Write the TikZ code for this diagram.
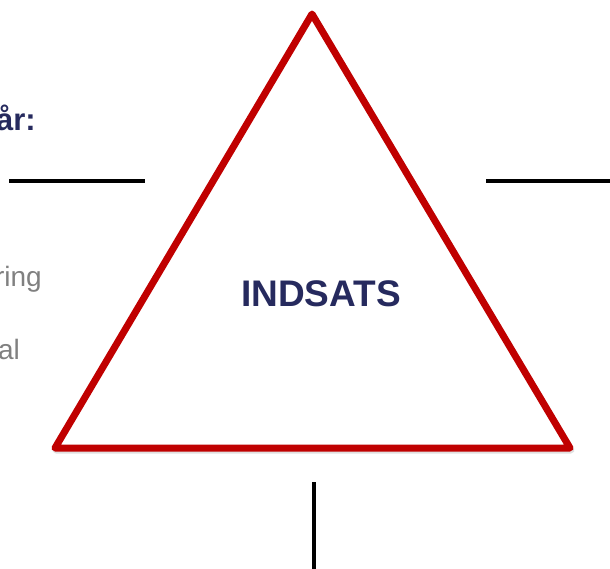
\documentclass[tikz,border=0pt]{standalone}
\usepackage{fontspec}
\setmainfont{Liberation Sans}
\usepackage{xcolor}
\usepackage{tikz}
\usetikzlibrary{positioning, calc}
\definecolor{navy}{RGB}{38, 42, 94}
\definecolor{alert}{RGB}{192, 0, 0}
\definecolor{muted}{RGB}{128, 128, 128}
\tikzset{
    frame/.style={draw=alert, line width=7pt, line join=round, fill=white},
    bar/.style={draw=black, line width=4.5pt},
    softshadow/.style={draw=black, opacity=0.12, line width=7pt, line join=round},
    title/.style={font=\bfseries\fontsize{37}{40}\selectfont, text=navy, inner sep=0pt},
    heading/.style={font=\bfseries\fontsize{31}{34}\selectfont, text=navy, inner sep=0pt, anchor=base east},
    note/.style={font=\fontsize{28}{32}\selectfont, text=muted, inner sep=0pt, anchor=base east}
}

\begin{document}
\begin{tikzpicture}[x=1pt, y=-1pt]
\useasboundingbox (0,0) rectangle (610,568);

% Corners
\coordinate (top) at (312,14);
\coordinate (left) at (55,448);
\coordinate (right) at (570,448);

% Triangle
\draw[softshadow] ($(top)+(1,2)$) -- ($(left)+(1,2)$) -- ($(right)+(1,2)$) -- cycle;
\draw[frame] (top) -- (left) -- (right) -- cycle;
\node[title] (indsats) at (321,294) {INDSATS};

% Bars
\draw[bar] (9,181) -- (145,181);
\draw[bar] (486,181) -- (612,181);
\draw[bar] (314,482) -- (314,570);

% Side text
\node[heading] (hdr) at (36,130) {år:};
\node[note] (noteA) at (42,286) {ring};
\node[note] (noteB) at (20,359) {al};

\end{tikzpicture}
\end{document}
